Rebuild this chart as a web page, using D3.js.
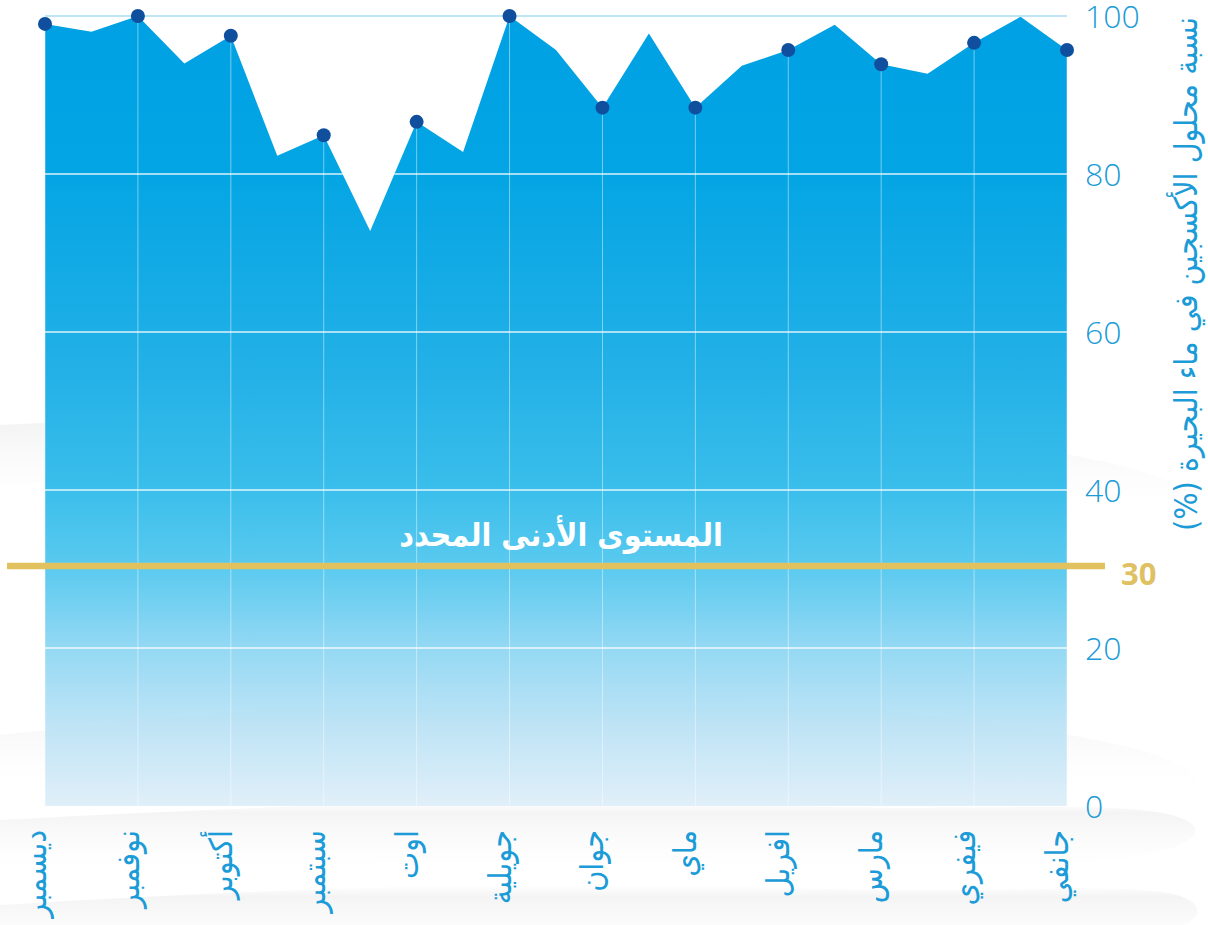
<!DOCTYPE html>
<html>

<head>
    <meta charset="utf-8" />
    <title>Oxygen</title>
    <script src="https://d3js.org/d3.v7.min.js"></script>
    <style>
        body { margin: 0; background: #ffffff; }
        svg { display: block; }
    </style>
</head>

<body>
    <svg id="chart" width="1208" height="925"></svg>

    <script>

        // months, right to left (January on the right)
        var months = ["جانفي", "فيفري", "مارس", "افريل", "ماي", "جوان",
            "جويلية", "اوت", "سبتمبر", "أكتوبر", "نوفمبر", "ديسمبر"];

        // readings every half month, starting at January
        var values = [95.7, 99.9, 96.6, 92.7, 93.9, 98.9, 95.7, 93.7, 88.4, 97.8,
            88.4, 95.7, 100, 82.8, 86.6, 72.8, 84.9, 82.3, 97.5, 94.0,
            100, 98.0, 99.0];

        var yTicks = [0, 20, 40, 60, 80, 100];
        var minLevel = 30;
        var minLabel = "المستوى الأدنى المحدد";
        var yTitle = "نسبة محلول الأكسجين في ماء البحيرة (%)";

        var svg = d3.select("#chart");
        var arabicFont = "'DejaVu Sans Condensed', 'DejaVu Sans', sans-serif";

        var x = d3.scaleLinear().domain([0, 11]).range([1067, 45]);
        var y = d3.scaleLinear().domain([0, 100]).range([806, 16]);

        var points = values.map(function (v, i) {
            return { pos: i / 2, value: v, month: i % 2 === 0 };
        });

        var defs = svg.append("defs");

        // soft grey bands in the background
        var waveGrad = defs.append("linearGradient")
            .attr("id", "waveGrad")
            .attr("x1", 0).attr("y1", 0).attr("x2", 0).attr("y2", 1);
        waveGrad.append("stop").attr("offset", "0%").attr("stop-color", "#e9e9e9").attr("stop-opacity", 0);
        waveGrad.append("stop").attr("offset", "15%").attr("stop-color", "#e9e9e9").attr("stop-opacity", 0.5);
        waveGrad.append("stop").attr("offset", "100%").attr("stop-color", "#ffffff").attr("stop-opacity", 0);

        var waves = [
            [[0, 425], [300, 410], [700, 405], [1000, 440], [1208, 480]],
            [[0, 735], [300, 705], [650, 690], [950, 715], [1208, 755]],
            [[0, 820], [300, 805], [600, 798], [900, 812], [1208, 800]],
            [[0, 905], [300, 888], [650, 882], [950, 895], [1208, 880]]
        ];
        var waveLine = d3.line().curve(d3.curveBasis);
        waves.forEach(function (w) {
            var bottom = w.map(function (p) { return [p[0], p[1] + 60]; }).reverse();
            svg.append("path")
                .attr("d", waveLine(w.concat(bottom)))
                .attr("fill", "url(#waveGrad)");
        });

        // area gradient
        var areaGrad = defs.append("linearGradient")
            .attr("id", "areaGrad")
            .attr("gradientUnits", "userSpaceOnUse")
            .attr("x1", 0).attr("y1", y(100)).attr("x2", 0).attr("y2", y(0));
        [
            [0, "#00a1e4", 1],
            [0.2, "#04a5e4", 1],
            [0.45, "#1caee6", 0.97],
            [0.6, "#30bbea", 0.95],
            [0.7, "#4fc6ee", 0.93],
            [0.8, "#88d4f2", 0.9],
            [0.9, "#b7e1f5", 0.88],
            [1, "#dcedf8", 0.88]
        ].forEach(function (s) {
            areaGrad.append("stop")
                .attr("offset", s[0])
                .attr("stop-color", s[1])
                .attr("stop-opacity", s[2]);
        });

        var area = d3.area()
            .x(function (d) { return x(d.pos); })
            .y0(y(0))
            .y1(function (d) { return y(d.value); });

        svg.append("path")
            .datum(points)
            .attr("d", area)
            .attr("fill", "url(#areaGrad)");

        // clip for grid lines inside the area
        defs.append("clipPath").attr("id", "areaClip")
            .append("path")
            .datum(points)
            .attr("d", area);

        var grid = svg.append("g").attr("clip-path", "url(#areaClip)");

        grid.selectAll("line.h")
            .data(yTicks.filter(function (t) { return t > 0 && t < 100; }))
            .enter().append("line")
            .attr("x1", x(11)).attr("x2", x(0))
            .attr("y1", function (d) { return y(d); })
            .attr("y2", function (d) { return y(d); })
            .attr("stroke", "#ffffff")
            .attr("stroke-opacity", 0.85)
            .attr("stroke-width", 1.5);

        grid.selectAll("line.v")
            .data(months)
            .enter().append("line")
            .attr("x1", function (d, i) { return x(i); })
            .attr("x2", function (d, i) { return x(i); })
            .attr("y1", y(100)).attr("y2", y(0))
            .attr("stroke", "#ffffff")
            .attr("stroke-opacity", 0.45)
            .attr("stroke-width", 1);

        // top grid line
        svg.append("line")
            .attr("x1", x(11)).attr("x2", x(0))
            .attr("y1", y(100)).attr("y2", y(100))
            .attr("stroke", "#a9dcf3")
            .attr("stroke-width", 1.5);

        // minimum level line
        svg.append("line")
            .attr("x1", 7).attr("x2", 1105)
            .attr("y1", y(minLevel) - 3).attr("y2", y(minLevel) - 3)
            .attr("stroke", "#e1c25e")
            .attr("stroke-width", 6.5);

        svg.append("text")
            .attr("x", 1121)
            .attr("y", y(minLevel) + 16)
            .attr("fill", "#dfc062")
            .style("font-family", "'Open Sans', sans-serif")
            .style("font-weight", "700")
            .style("font-size", "31px")
            .text(minLevel);

        svg.append("text")
            .attr("x", 561)
            .attr("y", 546)
            .attr("text-anchor", "middle")
            .attr("fill", "#ffffff")
            .style("font-family", arabicFont)
            .style("font-weight", "700")
            .style("font-size", "32px")
            .text(minLabel);

        // points at the months
        svg.selectAll("circle.dot")
            .data(points.filter(function (d) { return d.month; }))
            .enter().append("circle")
            .attr("class", "dot")
            .attr("cx", function (d) { return x(d.pos); })
            .attr("cy", function (d) { return y(d.value); })
            .attr("r", 7)
            .attr("fill", "#0f4f9e");

        // y tick labels
        svg.selectAll("text.ytick")
            .data(yTicks)
            .enter().append("text")
            .attr("class", "ytick")
            .attr("x", 1085)
            .attr("y", function (d) { return y(d) + 12; })
            .attr("fill", "#1b9bd7")
            .style("font-family", "'Open Sans', sans-serif")
            .style("font-weight", "300")
            .style("font-size", "32px")
            .text(function (d) { return d; });

        // y title
        svg.append("text")
            .attr("transform", "translate(1197,17) rotate(-90)")
            .attr("direction", "rtl")
            .attr("text-anchor", "start")
            .attr("fill", "#1b9bd7")
            .style("font-family", arabicFont)
            .style("font-size", "32px")
            .text(yTitle);

        // month labels
        svg.selectAll("text.month")
            .data(months)
            .enter().append("text")
            .attr("class", "month")
            .attr("transform", function (d, i) {
                return "translate(" + (x(i) + 1) + ",830) rotate(-90)";
            })
            .attr("direction", "rtl")
            .attr("text-anchor", "start")
            .attr("fill", "#1b9bd7")
            .style("font-family", arabicFont)
            .style("font-size", "32px")
            .text(function (d) { return d; });

    </script>

</body>

</html>
